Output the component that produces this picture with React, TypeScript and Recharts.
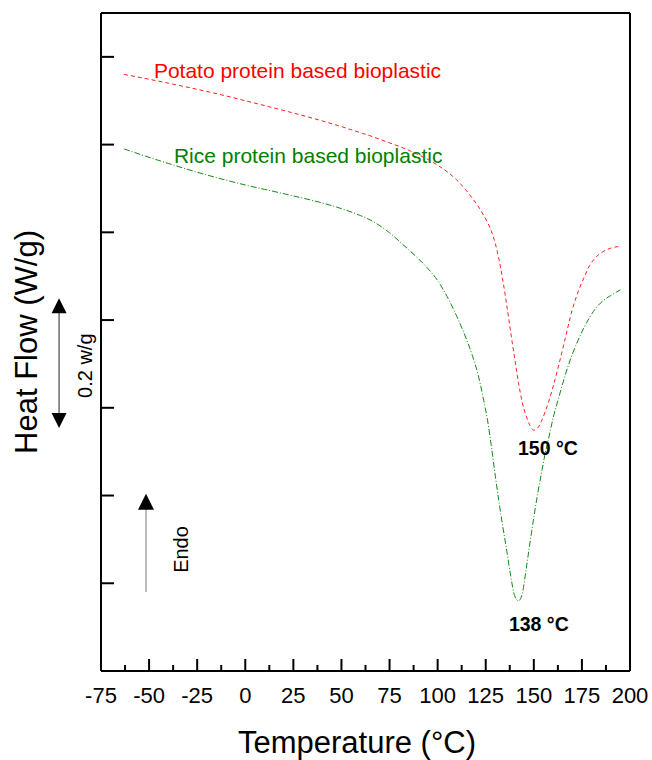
import React from 'react';
import { LineChart, Line, XAxis, YAxis, ReferenceLine, ReferenceDot } from 'recharts';

// Temperature (°C)
const temperatures = [
  -63, -50, -40, -25, -10, 0, 10, 25, 40, 50,
  60, 65, 70, 75, 80, 85, 90, 95, 100, 105,
  110, 115, 118, 121, 124, 126, 128, 130, 132, 134,
  136, 138, 140, 142, 144, 146, 148, 150, 152, 154,
  156, 158, 160, 163, 166, 170, 173, 176, 179, 182,
  186, 190, 195,
];

// Heat flow (arbitrary offset units, 1 unit = one y tick)
const potatoHeatFlow = [
  6.80, 6.745, 6.70, 6.63, 6.555, 6.50, 6.445, 6.36, 6.27, 6.205,
  6.135, 6.10, 6.06, 6.02, 5.98, 5.935, 5.885, 5.83, 5.765, 5.69,
  5.595, 5.475, 5.39, 5.30, 5.19, 5.11, 5.01, 4.87, 4.68, 4.44,
  4.16, 3.86, 3.57, 3.29, 3.06, 2.91, 2.80, 2.745, 2.77, 2.85,
  2.96, 3.09, 3.24, 3.49, 3.76, 4.12, 4.32, 4.48, 4.62, 4.71,
  4.78, 4.82, 4.84,
];

const riceHeatFlow = [
  5.95, 5.855, 5.785, 5.685, 5.595, 5.54, 5.49, 5.415, 5.335, 5.27,
  5.19, 5.14, 5.075, 4.995, 4.90, 4.80, 4.70, 4.585, 4.45, 4.265,
  4.04, 3.78, 3.60, 3.38, 3.08, 2.85, 2.55, 2.22, 1.91, 1.63,
  1.36, 1.08, 0.86, 0.80, 0.88, 1.16, 1.46, 1.75, 2.02, 2.26,
  2.49, 2.68, 2.88, 3.12, 3.35, 3.61, 3.77, 3.91, 4.03, 4.13,
  4.22, 4.28, 4.345,
];

const majorXTicks = [-75, -50, -25, 0, 25, 50, 75, 100, 125, 150, 175, 200];
const minorXTicks = [-62.5, -37.5, -12.5, 12.5, 37.5, 62.5, 87.5, 112.5, 137.5, 162.5, 187.5];
const yTicks = [0, 1, 2, 3, 4, 5, 6, 7];

const seriesNames = {
  potato: 'Potato protein based bioplastic',
  rice: 'Rice protein based bioplastic',
};
const peakLabels = { potato: '150 °C', rice: '138 °C' };

const data = temperatures.map((t, i) => ({ t, potato: potatoHeatFlow[i], rice: riceHeatFlow[i] }));
const allXTicks = [...majorXTicks, ...minorXTicks].sort((a, b) => a - b);

const FONT = '"Liberation Sans", Arial, Helvetica, sans-serif';

const XTick = (props: any) => {
  const { x, y, payload } = props;
  const v = payload.value;
  const major = majorXTicks.includes(v);
  return (
    <g>
      <line x1={x} x2={x} y1={y} y2={y - (major ? 12 : 6)} stroke="#000" strokeWidth={2} />
      {major && (
        <text x={x} y={y + 32} textAnchor="middle" fontSize={22} fontFamily={FONT} fill="#000">
          {v}
        </text>
      )}
    </g>
  );
};

const YTick = (props: any) => {
  const { x, y } = props;
  return <line x1={x} x2={x + 13} y1={y} y2={y} stroke="#000" strokeWidth={2} />;
};

const XLabel = (props: any) => {
  const vb = props.viewBox;
  return (
    <text x={vb.x + vb.width / 2 - 8.5} y={vb.y + 82} textAnchor="middle" fontSize={31} fontFamily={FONT} fill="#000">
      Temperature (°C)
    </text>
  );
};

const YLabel = (props: any) => {
  const vb = props.viewBox;
  const x = vb.x + 37;
  const y = vb.y + vb.height / 2;
  return (
    <text x={x} y={y} transform={`rotate(-90 ${x} ${y})`} textAnchor="middle" fontSize={31} fontFamily={FONT} fill="#000">
      Heat Flow (W/g)
    </text>
  );
};

const textShape = (text: string, opts: any) => (p: any) => {
  const { cx, cy } = p;
  const rot = opts.rotate ? `rotate(-90 ${cx} ${cy})` : undefined;
  return (
    <text
      x={cx}
      y={cy}
      transform={rot}
      textAnchor={opts.anchor || 'start'}
      fontSize={opts.size}
      fontWeight={opts.bold ? 'bold' : 'normal'}
      fontFamily={FONT}
      fill={opts.color || '#000'}
    >
      {text}
    </text>
  );
};

const DoubleArrow = (p: any) => {
  const { x1, y1, y2 } = p;
  const top = Math.min(y1, y2);
  const bot = Math.max(y1, y2);
  const x = x1;
  return (
    <g>
      <line x1={x} x2={x} y1={top + 12} y2={bot - 12} stroke="#222" strokeWidth={1} />
      <polygon points={`${x},${top} ${x - 7.5},${top + 15} ${x + 7.5},${top + 15}`} fill="#000" />
      <polygon points={`${x},${bot} ${x - 7.5},${bot - 15} ${x + 7.5},${bot - 15}`} fill="#000" />
    </g>
  );
};

const UpArrow = (p: any) => {
  const { x1, y1, y2 } = p;
  const top = Math.min(y1, y2);
  const bot = Math.max(y1, y2);
  const x = x1;
  return (
    <g>
      <line x1={x} x2={x} y1={top + 12} y2={bot} stroke="#777" strokeWidth={1} />
      <polygon points={`${x},${top} ${x - 8},${top + 16} ${x + 8},${top + 16}`} fill="#000" />
    </g>
  );
};

export default function App() {
  return (
    <div style={{ position: 'absolute', left: 0, top: 0, width: 652, height: 760, background: '#fff' }}>
      <LineChart width={652} height={760} data={data} margin={{ top: 13, right: 22, bottom: 0, left: 0 }}>
        <XAxis
          dataKey="t"
          type="number"
          domain={[-75, 200]}
          ticks={allXTicks}
          interval={0}
          height={89}
          tickSize={0}
          tickMargin={0}
          tickLine={false}
          tick={XTick}
          axisLine={{ stroke: '#000', strokeWidth: 2 }}
          label={XLabel}
        />
        <YAxis
          type="number"
          domain={[0, 7.5]}
          ticks={yTicks}
          interval={0}
          width={101}
          tickSize={0}
          tickMargin={0}
          tickLine={false}
          tick={YTick}
          axisLine={{ stroke: '#000', strokeWidth: 2 }}
          label={YLabel}
        />
        <ReferenceLine y={7.5} stroke="#000" strokeWidth={2} ifOverflow="visible" />
        <ReferenceLine x={200} stroke="#000" strokeWidth={2} ifOverflow="visible" />
        <Line
          type="monotone"
          dataKey="potato"
          stroke="#ff2020"
          strokeWidth={1}
          strokeDasharray="4 3"
          dot={false}
          isAnimationActive={false}
        />
        <Line
          type="monotone"
          dataKey="rice"
          stroke="#138a13"
          strokeWidth={1}
          strokeDasharray="6 2 1 2"
          dot={false}
          isAnimationActive={false}
        />
        <ReferenceDot x={-47.5} y={6.76} r={0} ifOverflow="visible"
          shape={textShape(seriesNames.potato, { size: 21, color: '#ff0000' })} />
        <ReferenceDot x={-37.1} y={5.79} r={0} ifOverflow="visible"
          shape={textShape(seriesNames.rice, { size: 21, color: '#008000' })} />
        <ReferenceDot x={157.3} y={2.46} r={0} ifOverflow="visible"
          shape={textShape(peakLabels.potato, { size: 19.5, bold: true, anchor: 'middle' })} />
        <ReferenceDot x={152.6} y={0.46} r={0} ifOverflow="visible"
          shape={textShape(peakLabels.rice, { size: 19.5, bold: true, anchor: 'middle' })} />
        <ReferenceDot x={-79.7} y={3.48} r={0} ifOverflow="visible"
          shape={textShape('0.2 w/g', { size: 20, rotate: true, anchor: 'middle' })} />
        <ReferenceDot x={-29.8} y={1.385} r={0} ifOverflow="visible"
          shape={textShape('Endo', { size: 20, rotate: true, anchor: 'middle' })} />
        <ReferenceLine
          segment={[{ x: -96.8, y: 4.25 }, { x: -96.8, y: 2.77 }]}
          ifOverflow="visible"
          shape={DoubleArrow}
        />
        <ReferenceLine
          segment={[{ x: -51.6, y: 2.02 }, { x: -51.6, y: 0.9 }]}
          ifOverflow="visible"
          shape={UpArrow}
        />
      </LineChart>
    </div>
  );
}
